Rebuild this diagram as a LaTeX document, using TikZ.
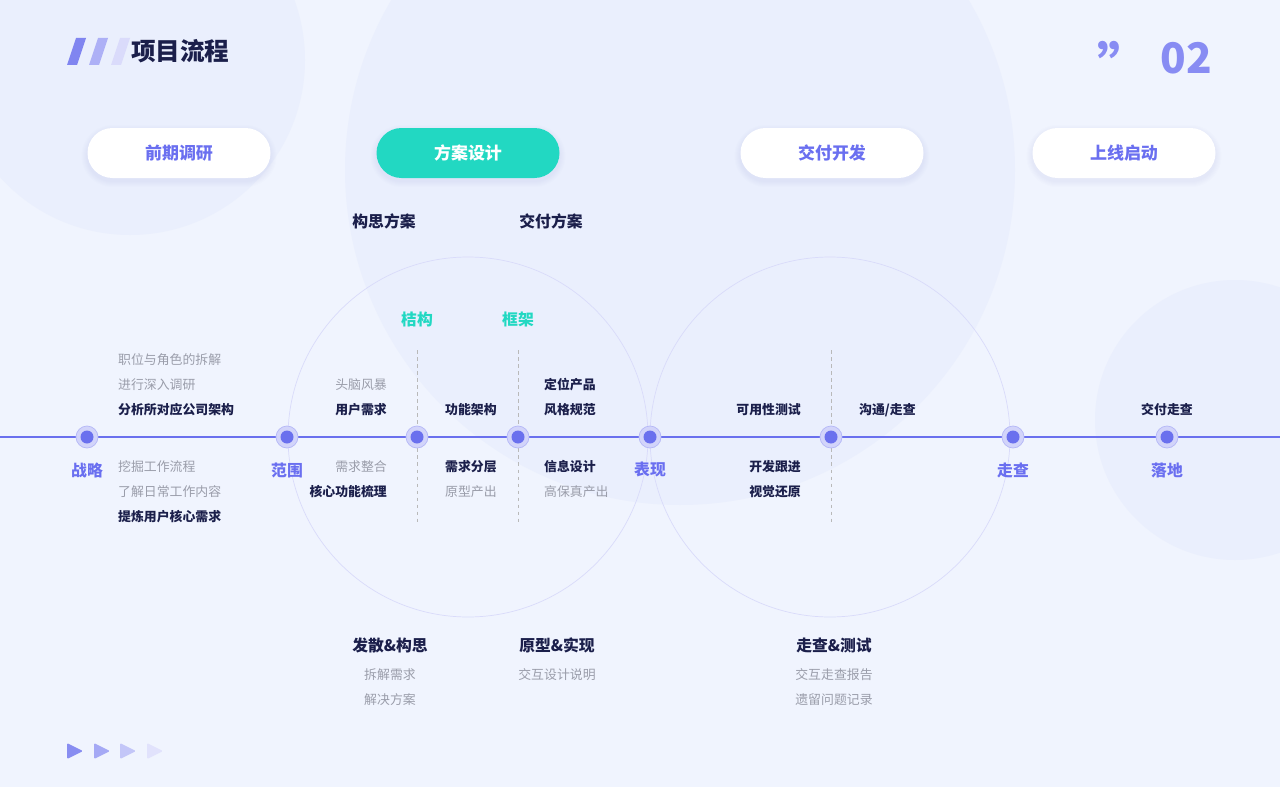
\documentclass[tikz,border=0pt]{standalone}
\usepackage{fontspec}
\setmainfont{Noto Sans CJK SC}
\definecolor{bg}{HTML}{F0F4FE}
\definecolor{deco}{HTML}{EAEFFD}
\definecolor{ln}{HTML}{6A70EE}
\definecolor{teal}{HTML}{22D8C2}
\definecolor{dk}{HTML}{1B1F4B}
\definecolor{gr}{HTML}{9A9DAA}
\definecolor{bl}{HTML}{6A6FF0}
\definecolor{ring}{HTML}{C9CCF8}
\begin{document}
\begin{tikzpicture}[x=0.03cm,y=-0.03cm,
 pill/.style={rounded corners=25*0.03cm,minimum width=183*0.03cm,minimum height=50*0.03cm,fill=white,text=bl,font=\fontsize{14.5}{14.5}\selectfont\bfseries},
 dk/.style={text=dk,font=\fontsize{11}{11}\selectfont\bfseries},
 gy/.style={text=gr,font=\fontsize{11}{11}\selectfont},
 hd/.style={text=dk,font=\fontsize{13.5}{13.5}\selectfont\bfseries},
 st/.style={text=bl,font=\fontsize{13.5}{13.5}\selectfont\bfseries},
 tl/.style={text=teal,font=\fontsize{13.5}{13.5}\selectfont\bfseries},
 dsh/.style={draw=gray!55,dashed,line width=0.8pt}]
\useasboundingbox (0,0) rectangle (1280,787);
\fill[bg] (0,0) rectangle (1280,787);
\begin{scope}
\clip (0,0) rectangle (1280,787);
\fill[deco] (130,60) circle (175);
\fill[deco] (680,170) circle (335);
\fill[deco] (1235,420) circle (140);
\end{scope}
% title
\foreach \x/\c in {67/ln!85,89/ln!55,111/ln!25}{\fill[\c] (\x+9,38)--(\x+19,38)--(\x+10,65)--(\x,65)--cycle;}
\node[anchor=west,text=dk,font=\fontsize{21}{21}\selectfont\bfseries] (title) at (127,51) {项目流程};
\node[text=bl!80,font=\fontsize{46}{46}\selectfont\bfseries] (q) at (1124,64) {\char"201D};
\node[anchor=east,text=bl!80,font=\fontsize{36}{36}\selectfont\bfseries] (num) at (1216,58) {02};
% pills with soft shadows
\foreach \x in {179,468,832,1124}{
 \foreach \s in {1,...,6}{\fill[ln,opacity=0.012,rounded corners=(25+\s)*0.03cm] (\x-91.5-\s,128+3-\s) rectangle (\x+91.5+\s,178+3+\s);}}
\node[pill] (p1) at (179,153) {前期调研};
\node[pill,fill=teal,text=white] (p2) at (468,153) {方案设计};
\node[pill] (p3) at (832,153) {交付开发};
\node[pill] (p4) at (1124,153) {上线启动};
% circles
\draw[ring!70,line width=0.6pt] (468,437) circle (180);
\draw[ring!70,line width=0.6pt] (830,437) circle (180);
% main line
\coordinate (L) at (0,437); \coordinate (R) at (1280,437);
\draw[ln,line width=1.2pt] (L)--(R);
\foreach \x in {417,518,831} \draw[dsh] (\x,350)--(\x,525);
\foreach \n/\x in {a/87,b/287,c/417,d/518,e/650,f/831,g/1013,h/1167}{
 \fill[ln!30] (\x,437) circle (11); \draw[ln!50,line width=0.6pt] (\x,437) circle (11);
 \node[circle,fill=ln,minimum size=13*0.03cm,inner sep=0] (\n) at (\x,437) {};}
% stage labels
\node[st] at (87,470) {战略};
\node[st] at (287,470) {范围};
\node[st] at (650,470) {表现};
\node[st] at (1013,470) {走查};
\node[st] at (1167,470) {落地};
% texts
\node[gy,anchor=west] at (114,360) {职位与角色的拆解};
\node[gy,anchor=west] at (114,385) {进行深入调研};
\node[dk,anchor=west] at (114,410) {分析所对应公司架构};
\node[gy,anchor=west] at (114,467) {挖掘工作流程};
\node[gy,anchor=west] at (114,492) {了解日常工作内容};
\node[dk,anchor=west] at (114,517) {提炼用户核心需求};
\node[gy,anchor=east] at (391,385) {头脑风暴};
\node[dk,anchor=east] at (391,410) {用户需求};
\node[gy,anchor=east] at (391,467) {需求整合};
\node[dk,anchor=east] at (391,492) {核心功能梳理};
\node[dk,anchor=west] at (441,410) {功能架构};
\node[dk,anchor=west] at (441,467) {需求分层};
\node[gy,anchor=west] at (441,492) {原型产出};
\node[dk,anchor=west] at (540,385) {定位产品};
\node[dk,anchor=west] at (540,410) {风格规范};
\node[dk,anchor=west] at (540,467) {信息设计};
\node[gy,anchor=west] at (540,492) {高保真产出};
\node[dk,anchor=east] at (805,410) {可用性测试};
\node[dk,anchor=east] at (805,467) {开发跟进};
\node[dk,anchor=east] at (805,492) {视觉还原};
\node[dk,anchor=west] at (855,410) {沟通/走查};
\node[dk] at (1167,410) {交付走查};
\node[tl] at (417,319) {桔构};
\node[tl] at (518,319) {框架};
\node[hd] at (384,221) {构思方案};
\node[hd] at (551,221) {交付方案};
\node[hd] at (390,645) {发散\&构思};
\node[gy] at (390,675) {拆解需求};
\node[gy] at (390,700) {解决方案};
\node[hd] at (557,645) {原型\&实现};
\node[gy] at (557,675) {交互设计说明};
\node[hd] at (834,645) {走查\&测试};
\node[gy] at (834,675) {交互走查报告};
\node[gy] at (834,700) {遗留问题记录};
% play triangles
\foreach \x/\c in {67/ln!80,94/ln!60,120/ln!40,147/ln!20}{\fill[\c,rounded corners=1pt] (\x,743)--(\x+16,751)--(\x,759)--cycle;}
\end{tikzpicture}
\end{document}
